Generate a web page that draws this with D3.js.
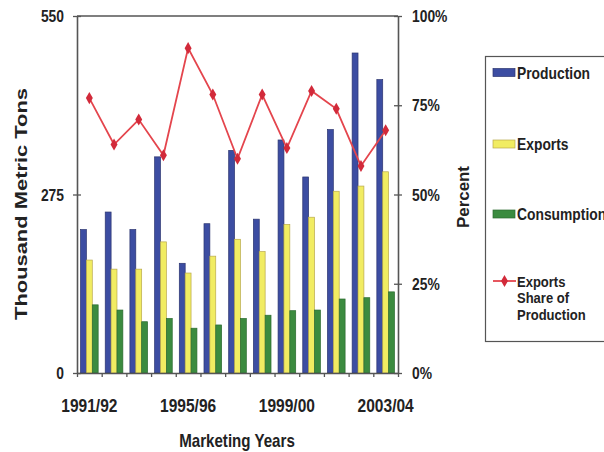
<!DOCTYPE html>
<html>
<head>
<meta charset="utf-8">
<script src="https://cdn.jsdelivr.net/npm/d3@7"></script>
<style>
  html, body { margin: 0; padding: 0; background: #fff; }
  svg { display: block; }
  text { font-family: "Liberation Sans", Arial, sans-serif; font-weight: bold; fill: #222; }
</style>
</head>
<body>
<svg id="chart" width="604" height="452"></svg>
<script>
// Marketing years (thousand metric tons, share in percent)
const years = ["1991/92","1992/93","1993/94","1994/95","1995/96","1996/97","1997/98",
               "1998/99","1999/00","2000/01","2001/02","2002/03","2003/04"];
const production  = [221, 248, 221, 333, 169, 230, 343, 237, 359, 302, 375, 493, 452];
const exportsVals = [174, 160, 160, 202, 154, 180, 206, 187, 229, 240, 280, 288, 310];
const consumption = [105,  97,  79,  84,  69,  74,  84,  89,  96,  97, 114, 116, 125];
const exportShare = [ 77,  64,  71,  61,  91,  78,  60,  78,  63,  79,  74,  58,  68];

const leftTicks   = [0, 275, 550];
const rightTicks  = [0, 25, 50, 75, 100];
const labelYears  = ["1991/92", "1995/96", "1999/00", "2003/04"];

const seriesKeys  = ["Production", "Exports", "Consumption"];
const seriesData  = [production, exportsVals, consumption];
const fills       = ["#3c4da2", "#f1ec62", "#3b8b3f"];
const strokes     = ["#2c3570", "#b9a94c", "#2b6a2f"];
const lineColor   = "#e4454d";
const markerColor = "#d22a3a";

const SX = 0.84; // narrow lettering

const svg = d3.select("#chart");
const plot = { left: 77, right: 398, top: 16, bottom: 373 };

const x = d3.scaleBand().domain(years).range([plot.left, plot.right]).paddingInner(0).paddingOuter(0);
const xSub = d3.scaleBand().domain(seriesKeys).range([0, x.bandwidth()]).paddingInner(0).paddingOuter(0.6);
const y = d3.scaleLinear().domain([0, 550]).range([plot.bottom, plot.top]);
const yPct = d3.scaleLinear().domain([0, 100]).range([plot.bottom, plot.top]);
const xIdx = d3.scaleLinear().domain([0, years.length]).range([plot.left, plot.right]);

// narrow text helper: places text at (px, py) squeezed horizontally
function narrowText(parent, px, py, str, size, anchor) {
  return parent.append("text")
    .attr("transform", `translate(${px},${py}) scale(${SX},1)`)
    .attr("text-anchor", anchor || "start")
    .style("font-size", size + "px")
    .text(str);
}

// bars
const groups = svg.append("g").selectAll("g")
  .data(years)
  .join("g")
  .attr("transform", d => `translate(${x(d)},0)`);

seriesKeys.forEach((k, si) => {
  groups.append("rect")
    .attr("x", xSub(k))
    .attr("width", xSub.bandwidth())
    .attr("y", (d, i) => y(seriesData[si][i]))
    .attr("height", (d, i) => y(0) - y(seriesData[si][i]))
    .attr("fill", fills[si])
    .attr("stroke", strokes[si])
    .attr("stroke-width", 0.7);
});

// export share line
const cx = d => x(d) + x.bandwidth() / 2;
const line = d3.line().x((d, i) => cx(years[i])).y(d => yPct(d));
svg.append("path")
  .datum(exportShare)
  .attr("d", line)
  .attr("fill", "none")
  .attr("stroke", lineColor)
  .attr("stroke-width", 1.8);

svg.append("g").selectAll("path")
  .data(exportShare)
  .join("path")
  .attr("transform", (d, i) => `translate(${cx(years[i])},${yPct(d)})`)
  .attr("d", d3.symbol().type(d3.symbolDiamond).size(42))
  .attr("fill", markerColor);

// frame and axes
const axisColor = "#555";
svg.append("line")
  .attr("x1", plot.left).attr("x2", plot.right)
  .attr("y1", plot.top).attr("y2", plot.top)
  .attr("stroke", axisColor).attr("stroke-width", 1.6);

const leftAxis = svg.append("g")
  .attr("transform", `translate(${plot.left},0)`)
  .call(d3.axisLeft(y).tickValues(leftTicks).tickSize(4).tickSizeOuter(0).tickFormat(""));
const rightAxis = svg.append("g")
  .attr("transform", `translate(${plot.right},0)`)
  .call(d3.axisRight(yPct).tickValues(rightTicks).tickSize(4).tickSizeOuter(0).tickFormat(""));
const bottomAxis = svg.append("g")
  .attr("transform", `translate(0,${plot.bottom})`)
  .call(d3.axisBottom(xIdx).ticks(years.length).tickSize(4).tickSizeOuter(0).tickFormat(""));

[leftAxis, rightAxis, bottomAxis].forEach(a => {
  a.select(".domain").attr("stroke", axisColor).attr("stroke-width", 1.6);
  a.selectAll(".tick line").attr("stroke", axisColor).attr("stroke-width", 1.3);
});
// ticks crossing the vertical axes
leftAxis.selectAll(".tick line").attr("x1", 4);
rightAxis.selectAll(".tick line").attr("x1", -4);

// tick labels
leftTicks.forEach(v => narrowText(svg, 64, y(v) + 6, String(v), 16.5, "end"));
rightTicks.forEach(v => narrowText(svg, 412, yPct(v) + 6, v + "%", 16.5, "start"));
labelYears.forEach(yr => narrowText(svg, cx(yr), 412, yr, 18.5, "middle"));

// axis titles
narrowText(svg, 237, 447, "Marketing Years", 18, "middle");
svg.append("text")
  .attr("transform", "translate(27,204) rotate(-90)")
  .attr("text-anchor", "middle")
  .attr("textLength", 232)
  .attr("lengthAdjust", "spacingAndGlyphs")
  .style("font-size", "17px")
  .text("Thousand Metric Tons");
svg.append("text")
  .attr("transform", "translate(469,197) rotate(-90)")
  .attr("text-anchor", "middle")
  .attr("textLength", 62)
  .attr("lengthAdjust", "spacingAndGlyphs")
  .style("font-size", "17px")
  .text("Percent");

// legend
const legend = svg.append("g");
legend.append("rect")
  .attr("x", 485.5).attr("y", 56.5)
  .attr("width", 130).attr("height", 285)
  .attr("fill", "#fff").attr("stroke", "#555").attr("stroke-width", 1.2);

const swatchY = [72.5, 144, 214];
seriesKeys.forEach((k, si) => {
  legend.append("rect")
    .attr("x", 493).attr("y", swatchY[si] - 4)
    .attr("width", 22).attr("height", 8)
    .attr("fill", fills[si]).attr("stroke", strokes[si]).attr("stroke-width", 0.7);
  narrowText(legend, 517, swatchY[si] + 6, k, 16.5, "start");
});
legend.append("line")
  .attr("x1", 493).attr("x2", 516).attr("y1", 281).attr("y2", 281)
  .attr("stroke", lineColor).attr("stroke-width", 1.8);
legend.append("path")
  .attr("transform", "translate(504.5,281)")
  .attr("d", d3.symbol().type(d3.symbolDiamond).size(42))
  .attr("fill", markerColor);
["Exports", "Share of", "Production"].forEach((t, i) => {
  narrowText(legend, 517, 286.5 + i * 16.5, t, 15.5, "start");
});
</script>
</body>
</html>
